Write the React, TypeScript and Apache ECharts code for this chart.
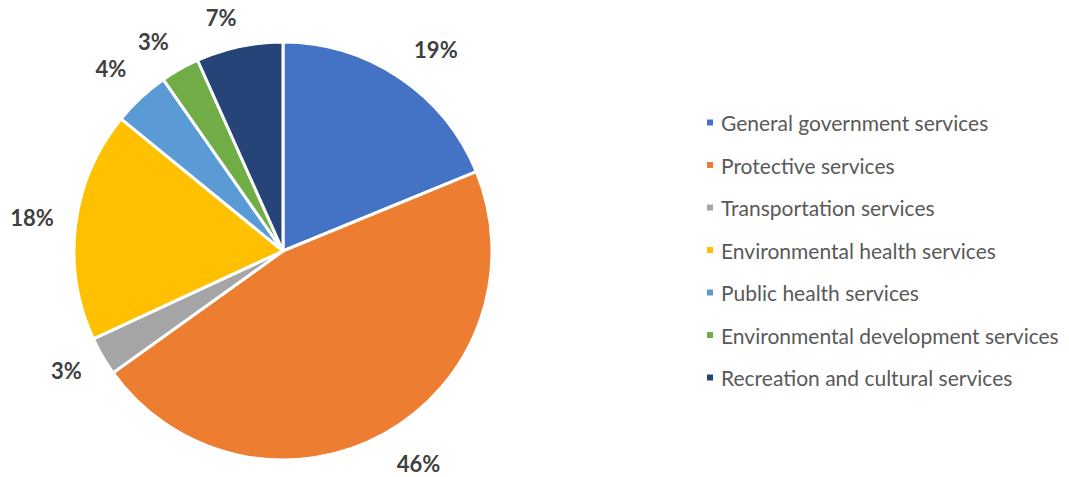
import React, { useEffect, useRef } from "react";
import * as echarts from "echarts";

const categories = [
  "General government services",
  "Protective services",
  "Transportation services",
  "Environmental health services",
  "Public health services",
  "Environmental development services",
  "Recreation and cultural services",
];
const values = [18.8, 46.3, 3.0, 17.8, 4.4, 3.0, 6.7];
const colors = ["#4472C4", "#ED7D31", "#A5A5A5", "#FFC000", "#5B9BD5", "#70AD47", "#264478"];
// small nudges of the data labels (best-fit placement)
const labelNudges: [number, number][] = [
  [12, 9],
  [13, -9],
  [2, -8],
  [0, -2],
  [0, 3],
  [-5, 11],
  [-9, 14],
];

export default function App() {
  const ref = useRef<HTMLDivElement>(null);
  useEffect(() => {
    if (!ref.current) return;
    const chart = echarts.init(ref.current, undefined, { renderer: "svg" });
    const font = "Lato, 'Open Sans', sans-serif";
    chart.setOption({
      animation: false,
      backgroundColor: "#ffffff",
      legend: {
        orient: "vertical",
        left: 700,
        top: 107,
        icon: "rect",
        itemWidth: 8,
        itemHeight: 8,
        itemGap: 21.5,
        data: categories,
        textStyle: {
          color: "#595959",
          fontSize: 21,
          fontFamily: font,
          lineHeight: 21,
          padding: [0, 0, 0, 2],
        },
      },
      series: [
        {
          type: "pie",
          center: [283, 251],
          radius: 209,
          startAngle: 90,
          clockwise: true,
          data: categories.map((c, i) => ({ name: c, value: values[i], itemStyle: { color: colors[i] } })),
          itemStyle: { borderColor: "#ffffff", borderWidth: 3 },
          label: { show: false },
          labelLine: { show: false },
          emphasis: { disabled: true },
        },
        {
          type: "pie",
          center: [283, 251],
          radius: [247, 253],
          startAngle: 90,
          clockwise: true,
          silent: true,
          legendHoverLink: false,
          data: values.map((v) => ({ value: v })),
          itemStyle: { color: "transparent", borderWidth: 0 },
          label: {
            show: true,
            position: "inside",
            formatter: (p: any) => Math.round(p.percent) + "%",
            color: "#404040",
            fontWeight: "bold",
            fontSize: 22,
            fontFamily: font,
          },
          labelLayout: (p: any) => ({ dx: labelNudges[p.dataIndex][0], dy: labelNudges[p.dataIndex][1] }),
          labelLine: { show: false },
          emphasis: { disabled: true },
        },
      ],
    });
    return () => chart.dispose();
  }, []);
  return (
    <div
      ref={ref}
      style={{ position: "absolute", left: 0, top: 0, width: 1069, height: 477 }}
    />
  );
}
